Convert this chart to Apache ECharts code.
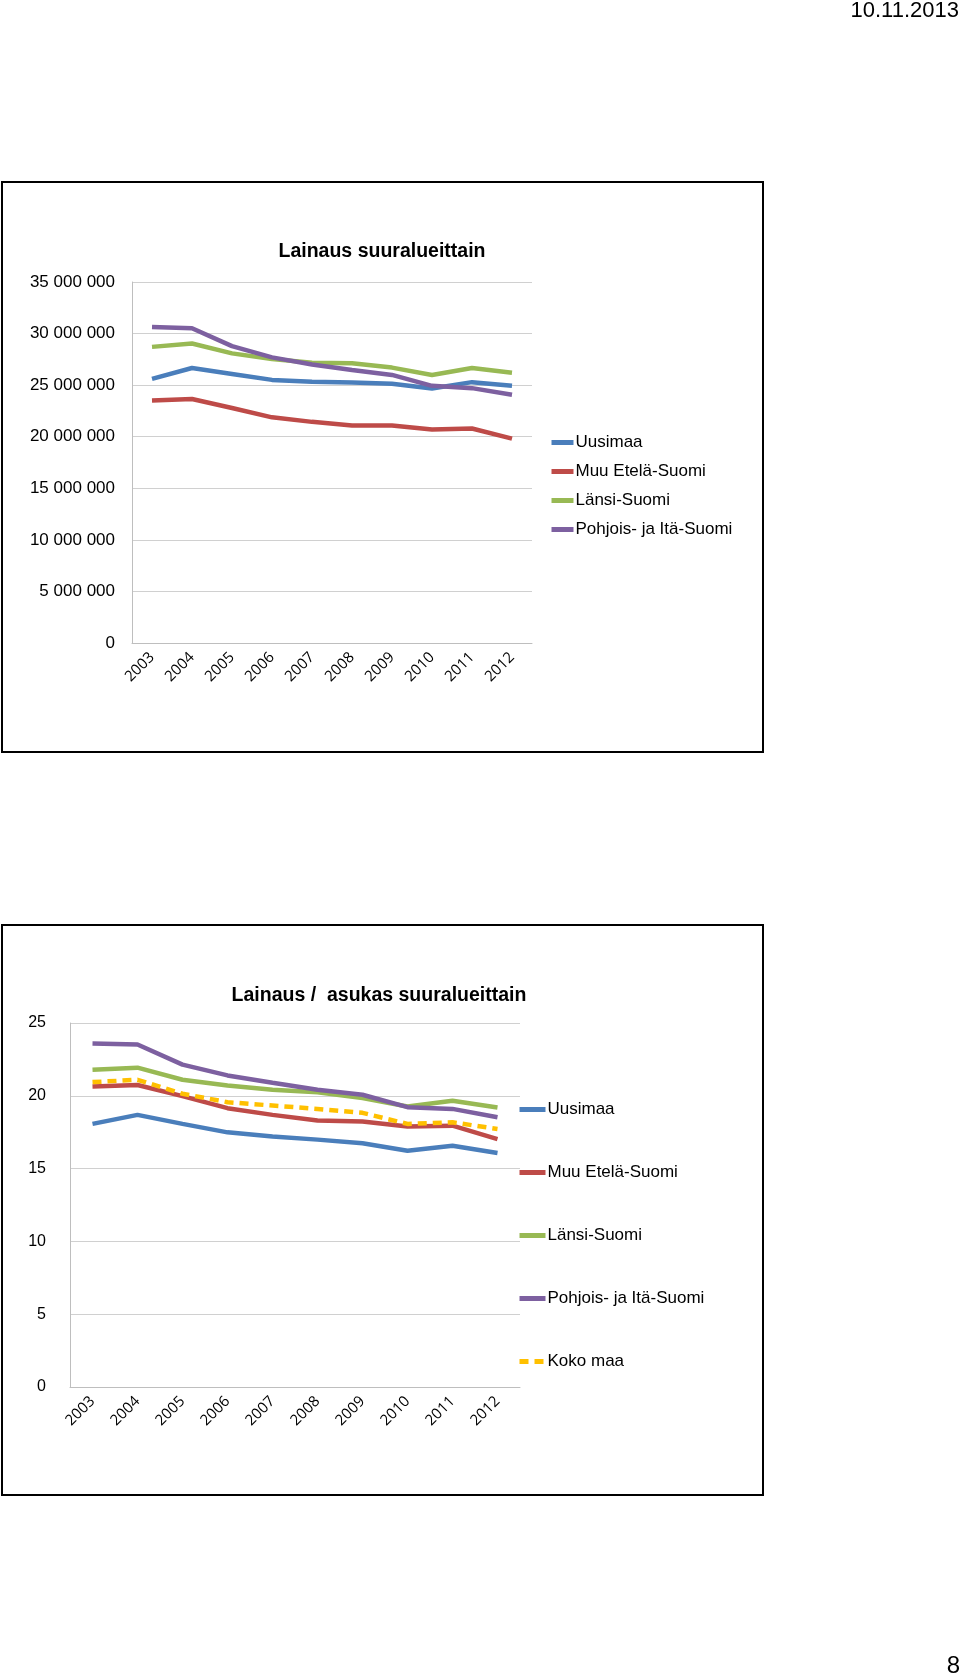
<!DOCTYPE html>
<html><head><meta charset="utf-8">
<script src="https://cdn.jsdelivr.net/npm/echarts@6/dist/echarts.min.js"></script>
<style>html,body{margin:0;padding:0;background:#fff}#c{width:960px;height:1680px}</style>
</head><body><div id="c"></div>
<script>
const years = ['2003','2004','2005','2006','2007','2008','2009','2010','2011','2012'];
const seriesNames1 = ['Uusimaa','Muu Etelä-Suomi','Länsi-Suomi','Pohjois- ja Itä-Suomi'];
const seriesNames2 = ['Uusimaa','Muu Etelä-Suomi','Länsi-Suomi','Pohjois- ja Itä-Suomi','Koko maa'];
const title1 = 'Lainaus suuralueittain';
const title2 = 'Lainaus /  asukas suuralueittain';
const dateText = '10.11.2013';
const pageText = '8';
// Chart 1: total lending (loans)
const uusimaa1  = [25600000,26660000,26090000,25510000,25320000,25250000,25130000,24680000,25290000,24930000];
const muuEtela1 = [23520000,23650000,22790000,21880000,21440000,21090000,21090000,20700000,20800000,19810000];
const lansi1    = [28710000,29040000,28080000,27530000,27180000,27120000,26700000,25990000,26660000,26210000];
const pohjois1  = [30640000,30510000,28780000,27690000,27000000,26470000,25990000,24930000,24710000,24070000];
const y1Ticks = [0,5000000,10000000,15000000,20000000,25000000,30000000,35000000];
// Chart 2: loans per inhabitant
const uusimaa2  = [18.07,18.69,18.07,17.49,17.20,16.99,16.74,16.23,16.57,16.07];
const muuEtela2 = [20.64,20.74,19.98,19.15,18.69,18.30,18.23,17.89,17.95,17.03];
const lansi2    = [21.79,21.93,21.10,20.71,20.41,20.25,19.84,19.26,19.66,19.20];
const pohjois2  = [23.59,23.52,22.14,21.40,20.90,20.41,20.07,19.22,19.10,18.53];
const kokoMaa2  = [20.94,21.10,20.14,19.56,19.33,19.10,18.83,18.07,18.18,17.72];
const y2Ticks = [0,5,10,15,20,25];

const colors = ['#4A7EBB','#BE4B48','#98B954','#7D60A0','#FFC000'];
const fmt = v => String(v).replace(/\B(?=(\d{3})+(?!\d))/g, ' ');
const FONT = 'Liberation Sans, Arial, sans-serif';
const xFont = {fontFamily:'Open Sans, sans-serif', fontSize:15, color:'#000'};

function line(name, data, idx, colorIdx, dashed) {
  return {
    name, type:'line', data, xAxisIndex:idx, yAxisIndex:idx,
    symbol:'none', showSymbol:false, smooth:false, animation:false,
    lineStyle:{color:colors[colorIdx], width:4.5, type: dashed ? [9,6] : 'solid', cap:'butt'},
    itemStyle:{color:colors[colorIdx]}
  };
}

const chart = echarts.init(document.getElementById('c'), null, {renderer:'canvas'});
chart.setOption({
  animation:false,
  backgroundColor:'#fff',
  graphic:[
    {type:'rect', shape:{x:2,y:182,width:761,height:570}, style:{fill:'none', stroke:'#000', lineWidth:2}},
    {type:'rect', shape:{x:2,y:925,width:761,height:570}, style:{fill:'none', stroke:'#000', lineWidth:2}},
    {type:'text', right:1, top:0, style:{text:dateText, font:'22px ' + FONT, fill:'#000'}},
    {type:'text', right:0, top:1654, style:{text:pageText, font:'24px ' + FONT, fill:'#000'}}
  ],
  title:[
    {text:title1, left:377, top:237, textAlign:'center', textStyle:{fontFamily:FONT, fontSize:19.5, fontWeight:'bold', color:'#000'}},
    {text:title2, left:374, top:981, textAlign:'center', textStyle:{fontFamily:FONT, fontSize:19.5, fontWeight:'bold', color:'#000'}}
  ],
  legend:[
    {data:seriesNames1.slice(), orient:'vertical', left:549, top:434, padding:0, itemWidth:22, itemHeight:14, itemGap:12,
     itemStyle:{opacity:0}, lineStyle:{width:5},
     textStyle:{fontFamily:FONT, fontSize:17, color:'#000', padding:[0,0,0,-3]}},
    {data:seriesNames2.slice(), orient:'vertical', left:517, top:1101, padding:0, itemWidth:26, itemHeight:14, itemGap:46,
     itemStyle:{opacity:0}, lineStyle:{width:5},
     textStyle:{fontFamily:FONT, fontSize:17, color:'#000', padding:[0,0,0,-3]}}
  ],
  grid:[
    {left:132, top:282, width:400, height:361, containLabel:false},
    {left:70, top:1023, width:450, height:364, containLabel:false}
  ],
  xAxis:[
    {type:'category', gridIndex:0, data:years, boundaryGap:true,
     axisLine:{lineStyle:{color:'#BEBEBE', width:1}}, axisTick:{show:false},
     axisLabel:Object.assign({rotate:45, margin:12, interval:0}, xFont)},
    {type:'category', gridIndex:1, data:years, boundaryGap:true,
     axisLine:{lineStyle:{color:'#BEBEBE', width:1}}, axisTick:{show:false},
     axisLabel:Object.assign({rotate:45, margin:12, interval:0}, xFont)}
  ],
  yAxis:[
    {type:'value', gridIndex:0, min:y1Ticks[0], max:y1Ticks[y1Ticks.length-1], interval:y1Ticks[1]-y1Ticks[0],
     axisLine:{show:true, lineStyle:{color:'#BEBEBE'}}, axisTick:{show:false},
     splitLine:{lineStyle:{color:'#D0D0D0', width:1}},
     axisLabel:{formatter:fmt, margin:17, fontFamily:FONT, fontSize:17, color:'#000'}},
    {type:'value', gridIndex:1, min:y2Ticks[0], max:y2Ticks[y2Ticks.length-1], interval:y2Ticks[1]-y2Ticks[0],
     axisLine:{show:true, lineStyle:{color:'#BEBEBE'}}, axisTick:{show:false},
     splitLine:{lineStyle:{color:'#D0D0D0', width:1}},
     axisLabel:{margin:24, fontFamily:FONT, fontSize:16, color:'#000'}}
  ],
  series:[
    line(seriesNames1[0], uusimaa1, 0, 0),
    line(seriesNames1[1], muuEtela1, 0, 1),
    line(seriesNames1[2], lansi1, 0, 2),
    line(seriesNames1[3], pohjois1, 0, 3),
    line(seriesNames2[0], uusimaa2, 1, 0),
    line(seriesNames2[1], muuEtela2, 1, 1),
    line(seriesNames2[2], lansi2, 1, 2),
    line(seriesNames2[3], pohjois2, 1, 3),
    line(seriesNames2[4], kokoMaa2, 1, 4, true)
  ]
});
</script></body></html>
